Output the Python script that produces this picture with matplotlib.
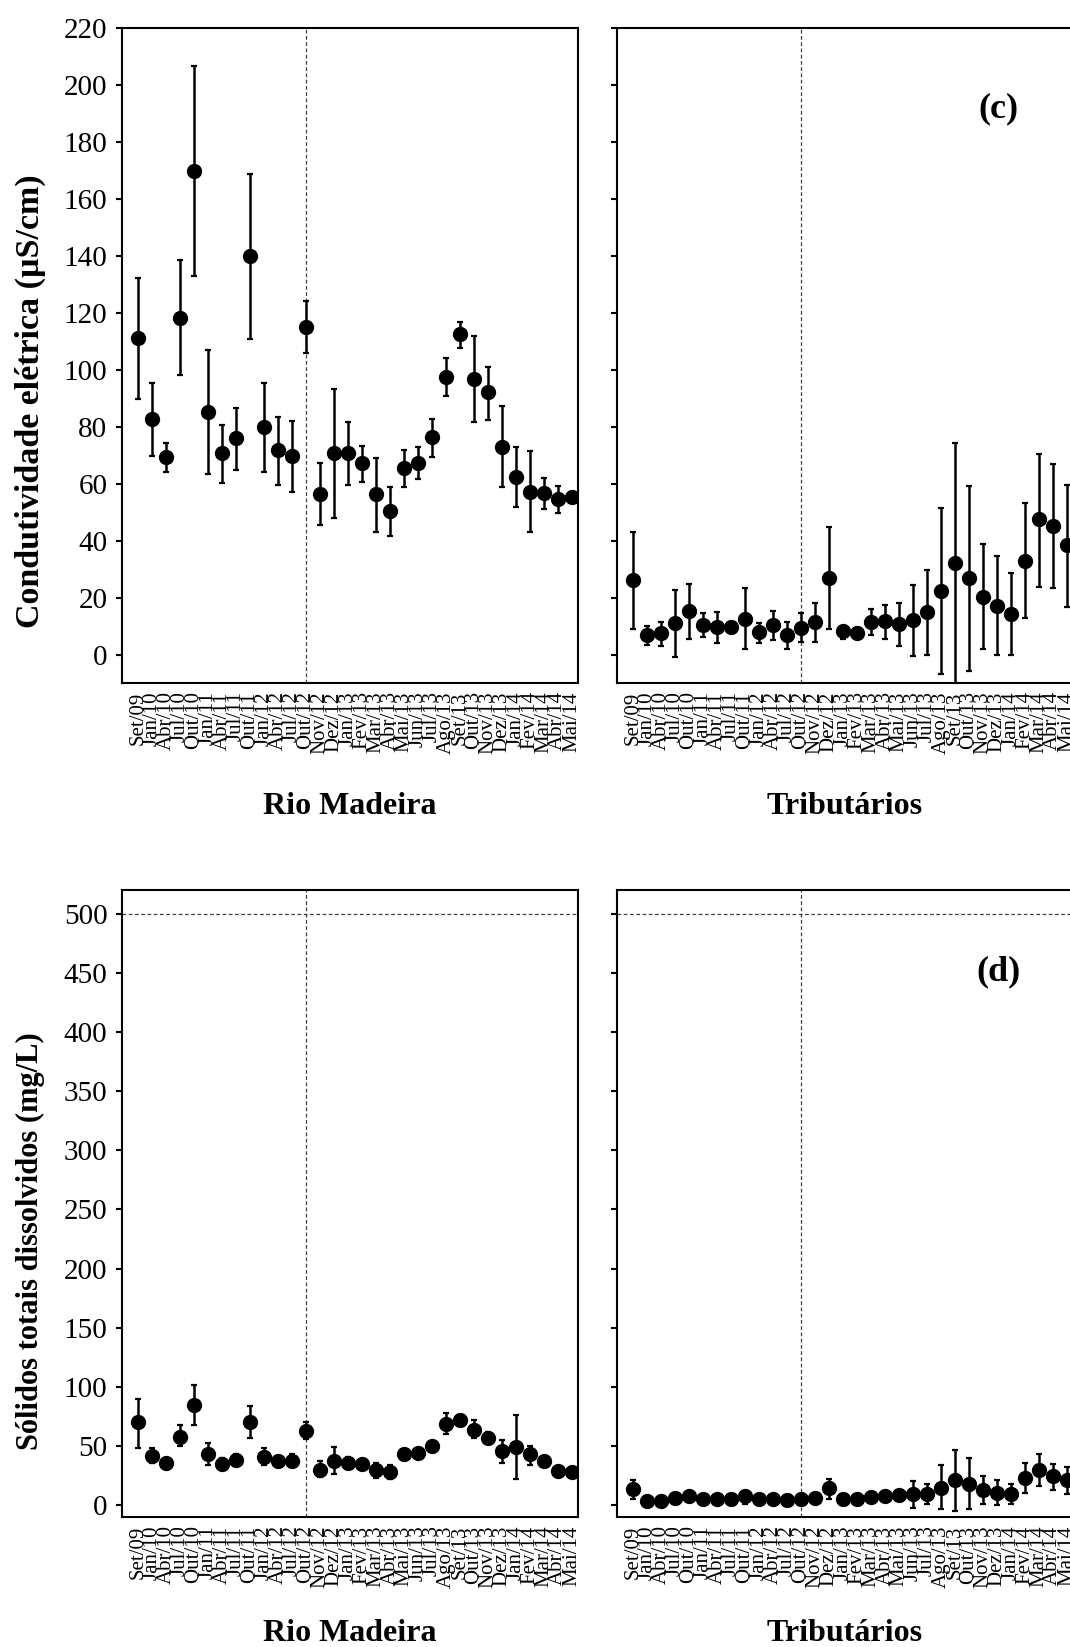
import numpy as np
import matplotlib.pyplot as plt

plt.rc('font', family='serif', serif=['Liberation Serif', 'DejaVu Serif'])
plt.rc('axes', linewidth=1.5)
plt.rc('xtick.major', size=0, width=1.5, pad=6)
plt.rc('xtick.minor', size=4.5, width=1.5)
plt.rc('ytick.major', size=4.5, width=1.5, pad=6)

meses = ['Set/09', 'Jan/10', 'Abr/10', 'Jul/10', 'Out/10', 'Jan/11', 'Abr/11', 'Jul/11',
         'Out/11', 'Jan/12', 'Abr/12', 'Jul/12', 'Out/12', 'Nov/12', 'Dez/12', 'Jan/13',
         'Fev/13', 'Mar/13', 'Abr/13', 'Mai/13', 'Jun/13', 'Jul/13', 'Ago/13', 'Set/13',
         'Out/13', 'Nov/13', 'Dez/13', 'Jan/14', 'Fev/14', 'Mar/14', 'Abr/14', 'Mai/14']

# condutividade eletrica (uS/cm): media, limite inferior, limite superior
cond_madeira = [111.1, 82.9, 69.6, 118.4, 169.9, 85.3, 70.8, 76.3, 140.0, 79.9, 71.9, 69.9,
                115.2, 56.4, 70.8, 71.0, 67.3, 56.4, 50.5, 65.5, 67.3, 76.6, 97.7, 112.6,
                96.8, 92.2, 73.1, 62.6, 57.3, 56.7, 54.6, 55.3]
cond_madeira_inf = [89.7, 69.9, 64.3, 98.2, 133.0, 63.4, 60.2, 64.9, 110.8, 64.3, 59.6, 57.3,
                    105.9, 45.5, 48.0, 59.6, 60.8, 43.3, 41.8, 58.8, 61.6, 69.6, 90.9, 107.8,
                    81.9, 82.5, 58.8, 52.0, 43.3, 51.1, 49.7, 53.8]
cond_madeira_sup = [132.4, 95.3, 74.5, 138.6, 206.8, 107.0, 80.7, 86.8, 168.8, 95.3, 83.4, 82.2,
                    124.3, 67.3, 93.2, 81.9, 73.3, 69.0, 59.1, 71.9, 72.9, 82.8, 104.1, 117.0,
                    112.0, 101.2, 87.4, 72.9, 71.6, 62.2, 59.4, 56.8]

cond_trib = [26.3, 6.9, 7.6, 11.1, 15.5, 10.4, 9.7, 9.7, 12.7, 8.1, 10.4, 6.9,
             9.6, 11.6, 27.1, 8.5, 7.6, 11.6, 11.9, 10.9, 12.3, 15.0, 22.5, 32.4,
             26.9, 20.5, 17.3, 14.4, 33.1, 47.6, 45.4, 38.6]
cond_trib_inf = [9.0, 3.7, 3.2, -0.8, 5.8, 6.4, 4.1, 7.6, 2.0, 4.3, 5.3, 2.3,
                 4.7, 4.7, 9.1, 5.8, 6.6, 7.0, 5.8, 3.2, -0.4, 0.0, -6.7, -14.0,
                 -5.6, 2.0, 0.0, 0.0, 12.9, 23.8, 23.6, 16.9]
cond_trib_sup = [43.3, 10.2, 11.7, 22.8, 24.8, 14.6, 15.2, 11.7, 23.4, 11.3, 15.4, 11.6,
                 14.8, 18.4, 44.8, 10.2, 8.6, 16.0, 17.4, 18.1, 24.6, 29.8, 51.5, 74.5,
                 59.3, 38.9, 34.7, 28.7, 53.2, 70.5, 66.9, 59.6]

# solidos totais dissolvidos (mg/L): media, limite inferior, limite superior
std_madeira = [70, 42, 36, 58, 85, 43, 35, 38, 70, 41, 37, 37,
               63, 30, 37, 36, 35, 30, 28, 43, 44, 50, 69, 72,
               64, 57, 46, 49, 43, 37, 29, 28]
std_madeira_inf = [48, 36, 33, 50, 68, 34, 31, 33, 57, 34, 33, 32,
                   56, 24, 26, 31, 31, 23, 22, 40, 41, 45, 60, 68,
                   57, 53, 36, 22, 34, 34, 27, 26]
std_madeira_sup = [90, 48, 39, 68, 102, 53, 40, 43, 84, 48, 42, 43,
                   70, 37, 49, 41, 38, 36, 34, 46, 47, 54, 78, 75,
                   72, 62, 55, 76, 50, 40, 31, 30]

std_trib = [13.5, 3.7, 3.7, 6.5, 7.9, 5.6, 5.6, 5.6, 7.6, 5.1, 5.6, 4.2,
            5.6, 6.5, 14.9, 5.1, 5.1, 7.0, 7.6, 8.7, 9.3, 9.9, 14.9, 21.7,
            18.3, 13.2, 10.7, 9.9, 23.4, 30.1, 24.5, 21.7]
std_trib_inf = [5.6, 2.5, 2.5, 2.0, 3.7, 4.5, 4.5, 4.5, 1.4, 4.0, 4.5, 3.0,
                2.0, 5.0, 5.6, 4.0, 4.0, 6.0, 6.5, 4.8, -2.0, 0.8, -3.6, -5.1,
                -3.6, 1.4, 0.0, 0.8, 10.4, 16.0, 12.7, 9.9]
std_trib_sup = [21.7, 4.9, 4.9, 9.9, 11.2, 6.7, 6.7, 6.7, 11.8, 6.2, 6.7, 5.4,
                9.3, 8.0, 22.5, 6.2, 6.2, 8.0, 8.7, 12.0, 20.3, 18.3, 33.8, 47.0,
                40.3, 24.5, 21.1, 17.7, 35.7, 43.1, 35.2, 32.3]

x = np.arange(len(meses))
idx_corte = meses.index('Out/12')


def painel(ax, media, inf, sup, ylim, yticks, mostra_y):
    media = np.array(media)
    erro = [media - np.array(inf), np.array(sup) - media]
    ax.errorbar(x, media, yerr=erro, fmt='o', color='black', ms=10,
                elinewidth=1.8, capsize=2, capthick=1.6, zorder=3)
    ax.axvline(x[idx_corte], color='0.25', lw=0.9, ls=(0, (3, 2)), zorder=1)
    ax.set_xlim(-1.15, len(meses) - 0.55)
    ax.set_ylim(*ylim)
    ax.set_yticks(yticks)
    if mostra_y:
        ax.set_yticklabels([str(v) for v in yticks], fontsize=21)
    else:
        ax.set_yticklabels([])
    ax.set_xticks(x)
    ax.set_xticklabels(meses, rotation=90, fontsize=15, va='top', ha='center')
    ax.set_xticks(x[::2], minor=True)
    ax.tick_params(which='both', direction='out')


fig = plt.figure(figsize=(10.7, 16.47), dpi=100)

ax_c1 = fig.add_axes([0.114, 0.5853, 0.4262, 0.3977])
ax_c2 = fig.add_axes([0.5766, 0.5853, 0.4262, 0.3977])
ax_d1 = fig.add_axes([0.114, 0.0789, 0.4262, 0.3807])
ax_d2 = fig.add_axes([0.5766, 0.0789, 0.4262, 0.3807])

ticks_c = list(range(0, 221, 20))
ticks_d = list(range(0, 501, 50))

painel(ax_c1, cond_madeira, cond_madeira_inf, cond_madeira_sup, (-9.8, 220), ticks_c, True)
painel(ax_c2, cond_trib, cond_trib_inf, cond_trib_sup, (-9.8, 220), ticks_c, False)
painel(ax_d1, std_madeira, std_madeira_inf, std_madeira_sup, (-10, 520), ticks_d, True)
painel(ax_d2, std_trib, std_trib_inf, std_trib_sup, (-10, 520), ticks_d, False)

# limite de 500 mg/L
for ax in (ax_d1, ax_d2):
    ax.axhline(500, color='0.25', lw=0.9, ls=(0, (3, 2)), zorder=1)

fig.text(30 / 1070, 1 - 401 / 1647, 'Condutividade elétrica (µS/cm)', rotation=90,
         ha='center', va='center', fontsize=24.5, fontweight='bold')
fig.text(30 / 1070, 1 - 1241 / 1647, 'Sólidos totais dissolvidos (mg/L)', rotation=90,
         ha='center', va='center', fontsize=22, fontweight='bold')

for ax, nome, yt in [(ax_c1, 'Rio Madeira', 0.5105), (ax_c2, 'Tributários', 0.5105),
                     (ax_d1, 'Rio Madeira', 0.0085), (ax_d2, 'Tributários', 0.0085)]:
    pos = ax.get_position()
    fig.text(pos.x0 + pos.width / 2, yt, nome, ha='center', va='center',
             fontsize=23, fontweight='bold')

fig.text(998 / 1070, 1 - 109 / 1647, '(c)', ha='center', va='center', fontsize=26, fontweight='bold')
fig.text(998 / 1070, 1 - 972 / 1647, '(d)', ha='center', va='center', fontsize=26, fontweight='bold')

plt.savefig('out.png', dpi=100)
